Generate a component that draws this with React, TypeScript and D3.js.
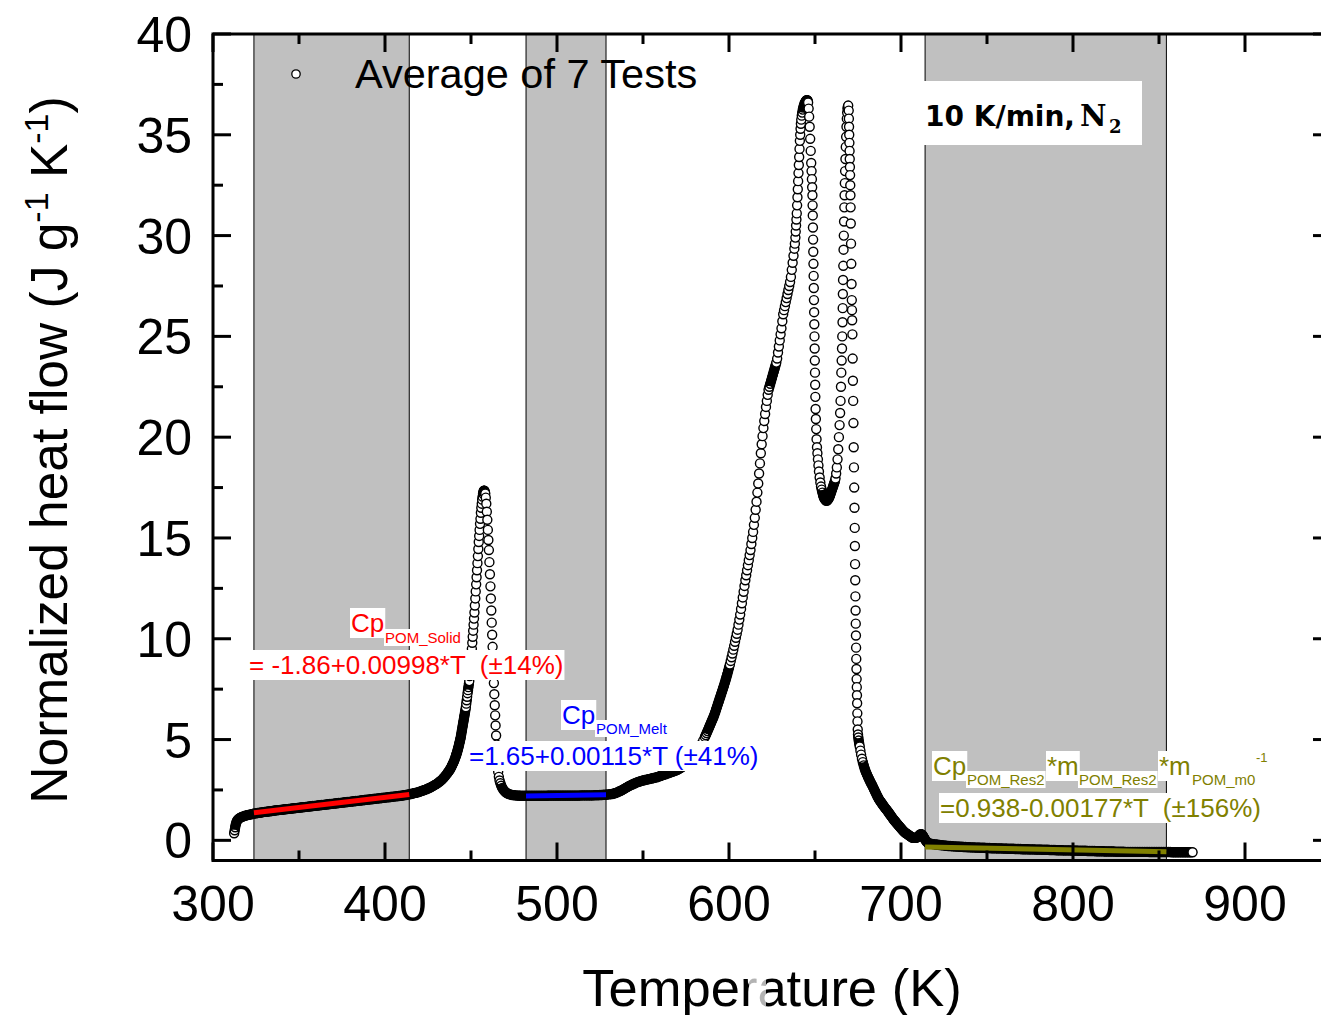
import React, { useLayoutEffect, useRef, useState } from "react";
import * as d3 from "d3";

// ---------- data (T in K, normalized heat flow in J g^-1 K^-1) ----------
const solidPhase: [number, number][] = [
  [312.3,0.35],[312.6,0.5],[312.9,0.65],[313.2,0.78],[313.6,0.9],[314.1,0.99],[314.7,1.05],[315.4,1.1],[316.2,1.14],[317,1.17],[318,1.2],[319,1.23],[320,1.25],[321,1.27],[322,1.29],[323,1.31],[324,1.33],[325,1.34],[326,1.36],[327,1.37],[328,1.38],[329,1.4],[330,1.41],[331,1.42],[332,1.43],[333,1.44],[334,1.45],[335,1.47],[336,1.48],[337,1.49],[338,1.5],[339,1.51],[340,1.52],[341,1.53],[342,1.54],[343,1.55],[344,1.56],[345,1.57],[346,1.58],[347,1.59],[348,1.6],[349,1.61],[350,1.62],[351,1.63],[352,1.64],[353,1.65],[354,1.66],[355,1.67],[356,1.68],[357,1.69],[358,1.7],[359,1.71],[360,1.72],[361,1.73],[362,1.74],[363,1.75],[364,1.76],[365,1.77],[366,1.78],[367,1.79],[368,1.8],[369,1.81],[370,1.82],[371,1.83],[372,1.84],[373,1.85],[374,1.86],[375,1.87],[376,1.88],[377,1.89],[378,1.9],[379,1.91],[380,1.92],[381,1.93],[382,1.94],[383,1.95],[384,1.96],[385,1.97],[386,1.98],[387,1.99],[388,2.0],[389,2.01],[390,2.02],[391,2.03],[392,2.04],[393,2.05],[394,2.06],[395,2.07],[396,2.08],[397,2.09],[398,2.1],[399,2.11],[400,2.12],[401,2.13],[402,2.14],[403,2.15],[404,2.16],[405,2.17],[406,2.18],[407,2.19],[408,2.2],[409,2.21],[410,2.22],[411,2.24],[412,2.25],[413,2.27],[414,2.28],[415,2.3],[416,2.32],[417,2.34],[418,2.36],[419,2.38],[420,2.41],[421,2.44],[422,2.47],[423,2.5],[424,2.53],[425,2.57],[426,2.61],[427,2.65],[428,2.7],[429,2.75],[430,2.8],[431,2.86],[432,2.93],[433,3.0],[434,3.09],[435,3.19],[436,3.3],[436.5,3.36],[437,3.42],[437.5,3.48],[438,3.55],[438.5,3.63],[439,3.72],[439.5,3.81],[440,3.9],[440.5,4.01],[441,4.13],[441.25,4.2],[441.5,4.26],[441.75,4.33],[442,4.4],[442.25,4.48],[442.5,4.56],[442.75,4.64],[443,4.73],[443.25,4.82],[443.5,4.91],[443.75,5.0],[444,5.1],[444.25,5.22],[444.5,5.35],[444.75,5.47],[445,5.6],[445.25,5.72],[445.5,5.85],[445.75,5.97],[446,6.1],[446.25,6.22],[446.5,6.35],[446.75,6.47],[447,6.6],[447.25,6.78],[447.5,6.95],[447.75,7.12],[448,7.3],[448.25,7.45],[448.5,7.6],[448.75,7.75]
];

const firstMeltPeak: [number, number][] = [
  [449,7.9],[449.25,8.15],[449.5,8.4],[449.75,8.7],[450,9.0],[450.25,9.25],[450.5,9.5],[450.75,9.8],[451,10.1],[451.25,10.4],[451.5,10.7],[451.75,11.0],[452,11.3],[452.25,11.65],[452.5,12.0],[452.75,12.35],[453,12.7],[453.25,13.05],[453.5,13.4],[453.75,13.75],[454,14.1],[454.25,14.45],[454.5,14.8],[454.75,15.1],[455,15.4],[455.25,15.7],[455.5,15.95],[455.75,16.25],[456,16.5],[456.25,16.7],[456.5,16.9],[456.75,17.05],[457,17.2],[457.25,17.3],[457.5,17.35],[457.75,17.35],[458,17.3],[458.3,17.2],[458.6,17.0],[458.9,16.7],[459.2,16.3],[459.5,15.9],[459.8,15.4],[460.1,14.9],[460.4,14.4],[460.7,13.8],[461,13.2],[461.3,12.6],[461.55,12.0],[461.8,11.4],[462.05,10.8],[462.3,10.2],[462.55,9.6],[462.8,9.0],[463.05,8.4],[463.3,7.8],[463.55,7.25],[463.8,6.7],[464.05,6.2],[464.3,5.7],[464.6,5.2],[464.9,4.75],[465.4,3.8],[465.8,3.4],[466.2,3.15],[466.6,2.97],[467.1,2.83],[467.6,2.71],[468.2,2.6],[468.9,2.5],[469.6,2.43],[470.4,2.37],[471.2,2.33],[472,2.3],[473,2.27],[474,2.25],[475,2.24]
];

const meltPlateau: [number, number][] = [
  [476,2.23],[477,2.22],[478,2.22],[479,2.21],[480,2.21],[481,2.21],[482,2.21],[483,2.21],[484,2.21],[485,2.21],[486,2.21],[487,2.21],[488,2.21],[489,2.21],[490,2.21],[491,2.21],[492,2.21],[493,2.21],[494,2.21],[495,2.22],[496,2.22],[497,2.22],[498,2.22],[499,2.22],[500,2.22],[501,2.22],[502,2.22],[503,2.22],[504,2.22],[505,2.22],[506,2.22],[507,2.22],[508,2.22],[509,2.22],[510,2.22],[511,2.22],[512,2.22],[513,2.22],[514,2.23],[515,2.23],[516,2.23],[517,2.23],[518,2.23],[519,2.23],[520,2.23],[521,2.23],[522,2.24],[523,2.24],[524,2.24],[525,2.25],[526,2.25],[527,2.26],[528,2.26],[529,2.27],[530,2.28],[531,2.29],[532,2.3],[533,2.32],[534,2.35],[535,2.38],[536,2.42],[537,2.46],[538,2.5],[539,2.55],[540,2.6],[541,2.65],[542,2.7],[543,2.74],[544,2.78],[545,2.82],[546,2.86],[547,2.89],[548,2.92],[549,2.95],[550,2.97],[551,2.99],[552,3.01],[553,3.03],[554,3.05],[555,3.07],[556,3.09],[557,3.11],[558,3.13],[559,3.16],[560,3.19],[561,3.22],[562,3.25],[563,3.28],[564,3.31],[565,3.34],[566,3.37],[567,3.4],[568,3.43],[569,3.46],[570,3.5],[571,3.55],[572,3.6],[573,3.66],[574,3.72],[575,3.79],[576,3.86],[577,3.93],[578,4.02],[579,4.12],[580,4.23],[581,4.35],[582,4.48],[583,4.62],[584,4.78],[585,4.95]
];

const mainRise: [number, number][] = [
  [586,5.13],[586.5,5.22],[587,5.32],[587.5,5.42],[588,5.52],[588.5,5.62],[589,5.72],[589.5,5.82],[590,5.92],[590.5,6.02],[591,6.12],[591.5,6.24],[592,6.36],[592.5,6.49],[593,6.62],[593.5,6.75],[594,6.88],[594.5,7.01],[595,7.14],[595.5,7.27],[596,7.4],[596.5,7.53],[597,7.66],[597.5,7.8],[598,7.94],[598.5,8.09],[599,8.24],[599.5,8.4],[600,8.56],[600.5,8.72],[601,8.9],[601.5,9.08],[602,9.27],[602.5,9.46],[603,9.65],[603.5,9.85],[604,10.05],[604.5,10.25],[605,10.45],[605.5,10.7],[606,10.95],[606.5,11.2],[607,11.48],[607.5,11.76],[608,12.05],[608.5,12.33],[609,12.62],[609.5,12.9],[610,13.15],[610.5,13.4],[611,13.65],[611.5,13.9],[612,14.15],[612.5,14.4],[613,14.7],[613.5,15.0],[614,15.3],[614.5,15.65],[615,16.0],[615.5,16.4],[616,16.8],[616.5,17.25],[617,17.7],[617.5,18.2],[618,18.7],[618.5,19.2],[619,19.65],[619.5,20.05],[620,20.45],[620.5,20.8],[621,21.15],[621.5,21.5],[622,21.8],[622.5,22.1],[623,22.35],[623.5,22.5],[624,22.65],[624.5,22.8],[625,22.95],[625.5,23.1],[626,23.25],[626.5,23.4],[627,23.55],[627.5,23.7],[628,23.9],[628.5,24.2],[629,24.5],[629.5,24.8],[630,25.1],[630.5,25.4],[631,25.75],[631.5,26.1],[632,26.3],[632.5,26.5],[633,26.7],[633.5,26.9],[634,27.1],[634.5,27.3],[635,27.5],[635.5,27.7],[636,27.95],[636.5,28.3],[637,28.65],[637.5,29.0],[638,29.35],[638.3,29.6],[638.6,29.9],[638.8,30.2],[639,30.5],[639.2,30.8],[639.4,31.1],[639.6,31.5],[639.8,31.9],[640,32.3],[640.2,32.7],[640.4,33.1],[640.6,33.5],[640.8,33.9],[641,34.3],[641.2,34.7],[641.4,35.0],[641.6,35.3],[641.8,35.55],[642,35.75],[642.3,35.95],[642.6,36.1],[642.9,36.25],[643.2,36.35],[643.5,36.45],[643.9,36.55],[644.3,36.62],[644.7,36.68],[645.1,36.72],[645.5,36.72],[645.8,36.68]
];

const doublePeak: [number, number][] = [
  [646.0,36.6],[646.3,36.3],[646.6,35.9],[646.9,35.4],[647.2,34.8],[647.5,34.2],[647.8,33.6],[648.0,33.2],[648.2,32.8],[648.35,32.4],[648.5,32.0],[648.6,31.5],[648.7,31.0],[648.8,30.4],[648.9,29.8],[649.0,29.2],[649.1,28.6],[649.2,28.0],[649.3,27.4],[649.4,26.8],[649.5,26.2],[649.6,25.6],[649.7,25.0],[649.8,24.4],[649.9,23.8],[650.0,23.2],[650.1,22.6],[650.2,22.0],[650.35,21.4],[650.5,20.9],[650.7,20.4],[650.9,19.9],[651.15,19.5],[651.4,19.2],[651.7,18.9],[652.0,18.6],[652.3,18.3],[652.7,18.0],[653.1,17.75],[653.5,17.55],[653.9,17.4],[654.3,17.25],[654.7,17.12],[655.1,17.02],[655.5,16.95],[655.9,16.9],[656.3,16.86],[656.7,16.85],[657.1,16.86],[657.5,16.9],
  [657.9,16.95],[658.3,17.02],[658.7,17.1],[659.1,17.2],[659.5,17.3],[659.9,17.4],[660.3,17.5],[660.7,17.6],[661.1,17.7],[661.5,17.8],[661.9,17.95],[662.3,18.2],[662.7,18.5],[663.1,18.9],[663.5,19.4],[663.9,20.0],[664.3,20.6],[664.6,21.2],[664.85,21.8],[665.1,22.5],[665.3,23.2],[665.5,23.8],[665.7,24.4],[665.85,25.0],[666.0,25.7],[666.1,26.4],[666.2,27.1],[666.3,27.8],[666.45,28.5],[666.6,29.3],[666.75,30.0],[666.9,30.7],[667.05,31.4],[667.2,32.0],[667.35,32.6],[667.5,33.2],[667.7,33.8],[667.9,34.4],[668.1,34.9],[668.3,35.4],[668.5,35.8],[668.7,36.1],[668.9,36.3],[669.1,36.4],[669.3,36.45],
  [669.6,36.2],[669.7,35.8],[669.8,35.4],[669.9,35.0],[670.0,34.6],[670.1,34.2],[670.2,33.8],[670.3,33.4],[670.4,33.0],[670.5,32.5],[670.6,32.0],[670.7,31.4],[670.8,30.6],[670.95,29.6],[671.1,28.6],[671.25,27.6],[671.4,26.8],[671.5,26.3],[671.6,25.8],[671.75,25.1],[671.9,23.9],[672.05,22.8],[672.2,21.8],[672.35,20.7],[672.5,19.5],[672.65,18.5],[672.8,17.5],[672.95,16.5],[673.1,15.5],[673.2,14.6],[673.3,13.7],[673.4,12.9],[673.5,12.1],[673.6,11.4],[673.7,10.75],[673.8,10.16],[673.9,9.56],[674.0,9.0],[674.1,8.5],[674.2,8.0],[674.3,7.6],[674.4,7.2],[674.5,6.8],[674.6,6.3],[674.7,5.9],[674.85,5.5]
];

const decompositionTail: [number, number][] = [
  [675.0,5.25],[675.2,5.1],[675.4,4.95],[675.7,4.8],[676.0,4.65],[676.4,4.45],[676.8,4.25],[677.3,4.05],[677.8,3.88],[678.3,3.72],[678.8,3.58],[679.3,3.45],[679.8,3.35],[680.3,3.25],[680.8,3.15],[681.3,3.06],[681.8,2.97],[682.3,2.88],[682.8,2.8],[683.3,2.72],[683.8,2.63],[684.3,2.54],[684.8,2.45],[685.3,2.36],[685.8,2.27],[686.3,2.18],[686.8,2.1],[687.3,2.02],[687.8,1.96],[688.3,1.9],[688.8,1.84],[689.3,1.78],[689.8,1.72],[690.3,1.66],[690.8,1.6],[691.3,1.55],[691.8,1.5],[692.3,1.44],[692.8,1.38],[693.3,1.32],[693.8,1.26],[694.3,1.2],[694.8,1.14],[695.3,1.08],[695.8,1.02],[696.3,0.97],[696.8,0.92],[697.3,0.87],[697.8,0.82],[698.3,0.77],[698.8,0.72],[699.3,0.67],[699.8,0.62],[700.3,0.57],[700.8,0.52],[701.3,0.47],[701.8,0.43],[702.3,0.39],[702.8,0.36],[703.3,0.33],[703.8,0.3],[704.3,0.27],[704.8,0.24],[705.3,0.21],[705.8,0.18],[706.3,0.15],[706.8,0.13],[707.3,0.12],[707.8,0.12],[708.3,0.12],[708.8,0.13],[709.3,0.15],[709.8,0.18],[710.3,0.22],[710.8,0.27],[711.3,0.3],[711.8,0.31],[712.3,0.28],[712.8,0.22],[713.3,0.15],[713.8,0.07],[714.3,0.0],[714.8,-0.06],[715.3,-0.1],[715.8,-0.13]
];

const residue: [number, number][] = [
  [716.5,-0.15],[717.5,-0.17],[718.5,-0.19],[719.5,-0.2],[720.5,-0.21],[721.5,-0.22],[722.5,-0.23],[723.5,-0.24],[724.5,-0.25],[725.5,-0.26],[726.5,-0.27],[727.5,-0.28],[728.5,-0.28],[729.5,-0.29],[730.5,-0.3],[731.5,-0.3],[732.5,-0.31],[733.5,-0.31],[734.5,-0.32],[735.5,-0.32],[736.5,-0.33],[737.5,-0.33],[738.5,-0.34],[739.5,-0.34],[740.5,-0.35],[741.5,-0.35],[742.5,-0.35],[743.5,-0.36],[744.5,-0.36],[745.5,-0.36],[746.5,-0.37],[747.5,-0.37],[748.5,-0.37],[749.5,-0.38],[750.5,-0.38],[751.5,-0.38],[752.5,-0.39],[753.5,-0.39],[754.5,-0.39],[755.5,-0.4],[756.5,-0.4],[757.5,-0.4],[758.5,-0.4],[759.5,-0.41],[760.5,-0.41],[761.5,-0.41],[762.5,-0.42],[763.5,-0.42],[764.5,-0.42],[765.5,-0.42],[766.5,-0.43],[767.5,-0.43],[768.5,-0.43],[769.5,-0.43],[770.5,-0.44],[771.5,-0.44],[772.5,-0.44],[773.5,-0.44],[774.5,-0.45],[775.5,-0.45],[776.5,-0.45],[777.5,-0.45],[778.5,-0.46],[779.5,-0.46],[780.5,-0.46],[781.5,-0.46],[782.5,-0.47],[783.5,-0.47],[784.5,-0.47],[785.5,-0.47],[786.5,-0.48],[787.5,-0.48],[788.5,-0.48],[789.5,-0.48],[790.5,-0.49],[791.5,-0.49],[792.5,-0.49],[793.5,-0.49],[794.5,-0.5],[795.5,-0.5],[796.5,-0.5],[797.5,-0.5],[798.5,-0.5],[799.5,-0.51],[800.5,-0.51],[801.5,-0.51],[802.5,-0.51],[803.5,-0.52],[804.5,-0.52],[805.5,-0.52],[806.5,-0.52],[807.5,-0.52],[808.5,-0.53],[809.5,-0.53],[810.5,-0.53],[811.5,-0.53],[812.5,-0.53],[813.5,-0.54],[814.5,-0.54],[815.5,-0.54],[816.5,-0.54],[817.5,-0.54],[818.5,-0.55],[819.5,-0.55],[820.5,-0.55],[821.5,-0.55],[822.5,-0.55],[823.5,-0.55],[824.5,-0.56],[825.5,-0.56],[826.5,-0.56],[827.5,-0.56],[828.5,-0.56],[829.5,-0.56],[830.5,-0.57],[831.5,-0.57],[832.5,-0.57],[833.5,-0.57],[834.5,-0.57],[835.5,-0.57],[836.5,-0.57],[837.5,-0.57],[838.5,-0.57],[839.5,-0.57],[840.5,-0.57],[841.5,-0.57],[842.5,-0.57],[843.5,-0.57],[844.5,-0.58],[845.5,-0.58],[846.5,-0.58],[847.5,-0.58],[848.5,-0.58],[849.5,-0.58],[850.5,-0.58],[851.5,-0.58],[852.5,-0.58],[853.5,-0.58],[854.5,-0.58],[855.5,-0.58],[856.5,-0.58],[857.5,-0.59],[858.5,-0.59],[859.5,-0.59],[860.5,-0.59],[861.5,-0.59],[862.5,-0.59],[863.5,-0.59],[864.5,-0.59],[865.5,-0.59],[866.5,-0.59],[867.5,-0.59],[868.5,-0.59],[869.5,-0.59]
];

// fitted lines (end points over each evaluation window)
const cpSolidFit: [number, number][] = [[323.8, 1.37], [414.1, 2.27]];
const cpMeltFit: [number, number][] = [[482.0, 2.2], [528.5, 2.26]];
const cpResidueFit: [number, number][] = [[714.0, -0.33], [854.3, -0.57]];

// shaded evaluation windows [Tstart, Tend]
const shadedWindows: [number, number][] = [[323.8, 414.1], [482.0, 528.5], [714.0, 854.3]];

const xTickValues = [300, 400, 500, 600, 700, 800, 900];
const yTickValues = [0, 5, 10, 15, 20, 25, 30, 35, 40];

const SANS = "'Liberation Sans', Arial, sans-serif";

type BgProps = {
  x: number; y: number; size: number; color: string; text: string;
  family?: string; weight?: string | number; pad?: number;
};

function BgText({ x, y, size, color, text, family = SANS, weight = "normal", pad = 1 }: BgProps) {
  const ref = useRef<SVGTextElement>(null);
  const [bb, setBb] = useState<{ x: number; y: number; w: number; h: number } | null>(null);
  useLayoutEffect(() => {
    if (ref.current) {
      const b = ref.current.getBBox();
      setBb({ x: b.x, y: b.y, w: b.width, h: b.height });
    }
  }, [x, y, size, text]);
  return (
    <g>
      {bb && <rect x={bb.x - pad} y={bb.y} width={bb.w + 2 * pad} height={bb.h} fill="#fff" />}
      <text ref={ref} x={x} y={y} fontSize={size} fill={color} fontFamily={family} fontWeight={weight}
        style={{ whiteSpace: "pre" }}>{text}</text>
    </g>
  );
}

export default function App() {
  const W = 1321, H = 1015;
  const x = d3.scaleLinear().domain([300, 950]).range([213, 1331]);
  const y = d3.scaleLinear().domain([-1, 40]).range([860.5, 34]);
  const [x0, x1] = x.range();
  const [yb, yt] = y.range();

  const allPoints = [
    ...solidPhase, ...firstMeltPeak, ...meltPlateau, ...mainRise,
    ...doublePeak, ...decompositionTail, ...residue,
  ];
  const px = allPoints.map(d => [x(d[0]), y(d[1])] as [number, number]);
  // where symbols overlap heavily the markers merge into a solid black band
  const DENSE = 3.6;
  const gap = (i: number, j: number) =>
    j < 0 || j >= px.length ? Infinity : Math.hypot(px[i][0] - px[j][0], px[i][1] - px[j][1]);
  const denseSegs: [number, number][] = [];
  for (let i = 1; i < px.length; i++) if (gap(i, i - 1) < DENSE) denseSegs.push([i - 1, i]);
  const isDense = px.map((_, i) => gap(i, i - 1) < DENSE && gap(i, i + 1) < DENSE);

  const line = d3.line<[number, number]>().x(d => x(d[0])).y(d => y(d[1]));

  const xMajor = d3.range(300, 951, 100);
  const xMinor = d3.range(350, 951, 100);
  const yMajor = d3.range(0, 41, 5);
  const yMinor = d3.range(2.5, 40, 5);
  const majL = 18, minL = 10;

  return (
    <svg width={W} height={H} style={{ position: "absolute", left: 0, top: 0, background: "#fff" }}
      fontFamily={SANS}>
      <rect x={0} y={0} width={W} height={H} fill="#fff" />
      {/* shaded windows */}
      {shadedWindows.map(([a, b], i) => (
        <g key={"w" + i}>
          <rect x={x(a)} y={yt} width={x(b) - x(a)} height={yb - yt} fill="#c0c0c0" />
          <line x1={x(a)} x2={x(a)} y1={yt} y2={yb} stroke="#000" strokeWidth={1} />
          <line x1={x(b)} x2={x(b)} y1={yt} y2={yb} stroke="#000" strokeWidth={1} />
        </g>
      ))}

      {/* data points */}
      <g>
        {denseSegs.map(([a, b], k) => (
          <line key={"s" + k} x1={px[a][0]} y1={px[a][1]} x2={px[b][0]} y2={px[b][1]}
            stroke="#000" strokeWidth={9.5} strokeLinecap="round" />
        ))}
        {px.map((p, i) => (
          <circle key={i} cx={p[0]} cy={p[1]} r={4.5} fill={isDense[i] ? "none" : "#fff"}
            stroke="#000" strokeWidth={1.4} />
        ))}
      </g>

      {/* fits */}
      <path d={line(cpSolidFit) || ""} stroke="#ff0000" strokeWidth={5} fill="none" />
      <path d={line(cpMeltFit) || ""} stroke="#0000ff" strokeWidth={5} fill="none" />
      <path d={line(cpResidueFit) || ""} stroke="#808000" strokeWidth={5} fill="none" />

      {/* annotations */}
      <BgText x={351} y={632} size={26} color="#ff0000" text="Cp" />
      <BgText x={385} y={643} size={15} color="#ff0000" text="POM_Solid" />
      <BgText x={249} y={674} size={26} color="#ff0000" text="= -1.86+0.00998*T  (±14%)" />

      <BgText x={562} y={724} size={26} color="#0000ff" text="Cp" />
      <BgText x={596} y={734} size={15} color="#0000ff" text="POM_Melt" />
      <BgText x={469} y={765} size={26} color="#0000ff" text="=1.65+0.00115*T (±41%)" />

      <BgText x={933} y={775} size={26} color="#808000" text="Cp" />
      <BgText x={967} y={785} size={15} color="#808000" text="POM_Res2" />
      <BgText x={1047} y={775} size={26} color="#808000" text="*m" />
      <BgText x={1079} y={785} size={15} color="#808000" text="POM_Res2" />
      <BgText x={1159} y={775} size={26} color="#808000" text="*m" />
      <BgText x={1192} y={785} size={15} color="#808000" text="POM_m0" />
      <BgText x={1256} y={762} size={13} color="#808000" text="-1" />
      <BgText x={940} y={817} size={26} color="#808000" text="=0.938-0.00177*T  (±156%)" />

      {/* legend */}
      <circle cx={296} cy={74} r={4.2} fill="#fff" stroke="#000" strokeWidth={1.3} />
      <text x={355} y={88} fontSize={41.5} fill="#000">Average of 7 Tests</text>

      {/* condition box */}
      <rect x={922} y={81} width={220} height={64} fill="#fff" />
      <text x={925} y={126} fontSize={28} fontWeight="bold" fontFamily="'DejaVu Sans', sans-serif" fill="#000">10 K/min,</text>
      <text x={1080} y={126} fontSize={29} fontWeight="bold" fontFamily="'DejaVu Serif', serif" fill="#000">N</text>
      <text x={1109} y={133} fontSize={18} fontWeight="bold" fontFamily="'DejaVu Serif', serif" fill="#000">2</text>

      {/* frame */}
      <path d={`M${x0},${yt}L${x0},${yb}L${x1},${yb}L${x1},${yt}Z`} fill="none" stroke="#000" strokeWidth={3} />
      {xMajor.map(v => (
        <g key={"xM" + v}>
          <line x1={x(v)} x2={x(v)} y1={yb} y2={yb - majL} stroke="#000" strokeWidth={3} />
          <line x1={x(v)} x2={x(v)} y1={yt} y2={yt + majL} stroke="#000" strokeWidth={3} />
        </g>
      ))}
      {xMinor.map(v => (
        <g key={"xm" + v}>
          <line x1={x(v)} x2={x(v)} y1={yb} y2={yb - minL} stroke="#000" strokeWidth={3} />
          <line x1={x(v)} x2={x(v)} y1={yt} y2={yt + minL} stroke="#000" strokeWidth={3} />
        </g>
      ))}
      {yMajor.map(v => (
        <g key={"yM" + v}>
          <line x1={x0} x2={x0 + majL} y1={y(v)} y2={y(v)} stroke="#000" strokeWidth={3} />
          <line x1={x1} x2={x1 - majL} y1={y(v)} y2={y(v)} stroke="#000" strokeWidth={3} />
        </g>
      ))}
      {yMinor.map(v => (
        <g key={"ym" + v}>
          <line x1={x0} x2={x0 + minL} y1={y(v)} y2={y(v)} stroke="#000" strokeWidth={3} />
          <line x1={x1} x2={x1 - minL} y1={y(v)} y2={y(v)} stroke="#000" strokeWidth={3} />
        </g>
      ))}

      {/* tick labels */}
      {xTickValues.map(v => (
        <text key={"xl" + v} x={x(v)} y={921} fontSize={50} textAnchor="middle" fill="#000">{v}</text>
      ))}
      {yTickValues.map(v => (
        <text key={"yl" + v} x={192} y={y(v) + 18} fontSize={50} textAnchor="end" fill="#000">{v}</text>
      ))}

      {/* axis titles */}
      <text x={772} y={1006} fontSize={52.5} textAnchor="middle" fill="#000">Temperature (K)</text>
      <rect x={749} y={972} width={17} height={34} fill="#fff" opacity={0.7} />
      <text transform="translate(67,450) rotate(-90)" fontSize={51.5} textAnchor="middle" fill="#000">
        Normalized heat flow (J g<tspan dy={-19} fontSize={34}>-1</tspan><tspan dy={19}> K</tspan><tspan dy={-19} fontSize={34}>-1</tspan><tspan dy={19}>)</tspan>
      </text>
    </svg>
  );
}
